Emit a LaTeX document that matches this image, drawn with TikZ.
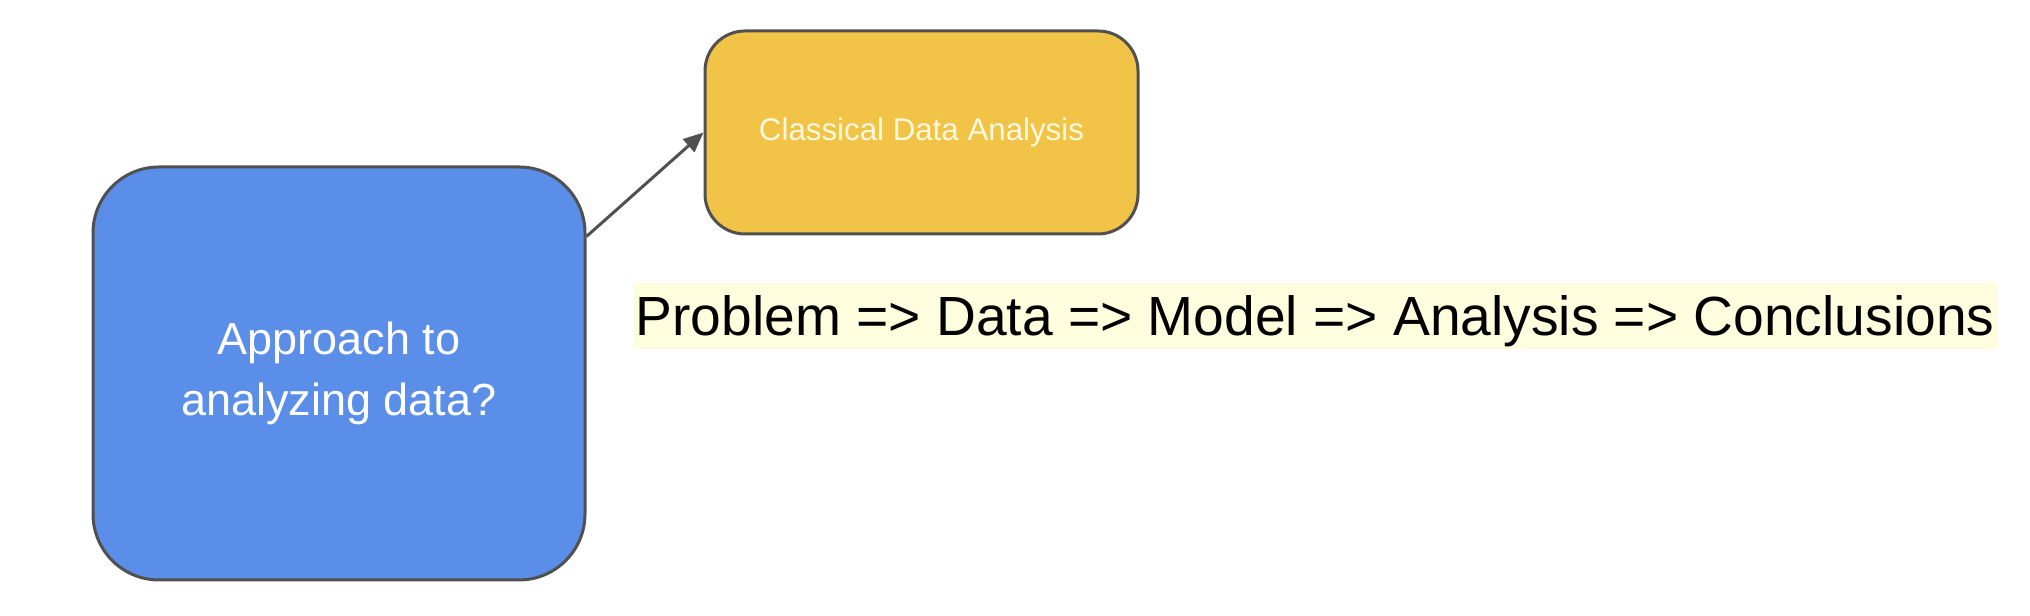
\documentclass[tikz,border=0pt]{standalone}
\usepackage{fontspec}
\setmainfont{Liberation Sans}
\usepackage{tikz}
\usetikzlibrary{arrows.meta}
\definecolor{boxblue}{RGB}{91,142,233}
\definecolor{boxyellow}{RGB}{241,195,70}
\definecolor{edgegray}{RGB}{80,80,80}
\definecolor{hilite}{RGB}{254,254,222}
\definecolor{cream}{RGB}{255,249,226}

\begin{document}
\begin{tikzpicture}[box/.style={draw=edgegray, line width=0.03cm, align=center}]
\useasboundingbox (0,0) rectangle (20.30,6.16);
\node [box, fill=boxblue, rounded corners=0.66cm, minimum width=4.92cm, minimum height=4.13cm,
  text=white, font=\fontsize{12.8pt}{17.4pt}\selectfont] (approach) at (3.39,2.425) {Approach to\\analyzing data?};
\node [box, fill=boxyellow, rounded corners=0.4cm, minimum width=4.33cm, minimum height=2.03cm,
  text=cream, font=\fontsize{8.9pt}{10.5pt}\selectfont] (classical) at (9.215,4.835) {Classical Data Analysis};
\node [fill=hilite, anchor=base west, inner xsep=0.03cm, inner ysep=0pt, text height=0.53cm, text depth=0.13cm,
  font=\fontsize{15.7pt}{18pt}\selectfont] (steps) at (6.32,2.80) {Problem => Data => Model => Analysis => Conclusions};
\draw [edgegray, line width=0.03cm, -{Triangle[length=0.2cm, width=0.17cm]}] ([yshift=-0.71cm]approach.north east) -- (classical.west);
\end{tikzpicture}
\end{document}
